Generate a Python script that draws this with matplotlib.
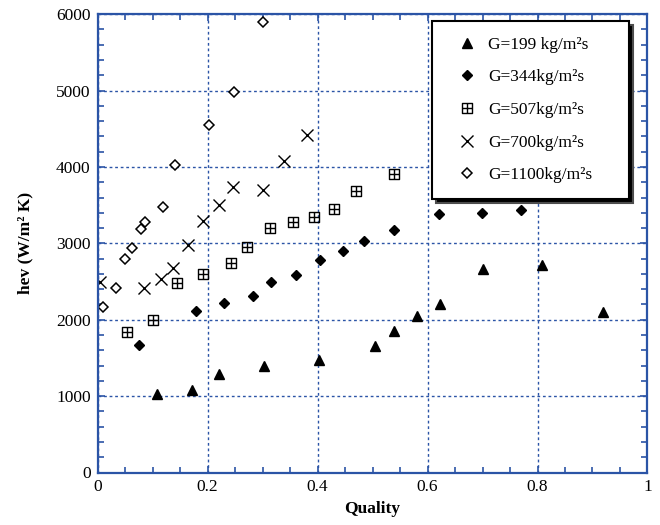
import matplotlib
matplotlib.use("Agg")
import matplotlib.pyplot as plt
from matplotlib.path import Path
from matplotlib.ticker import MultipleLocator, FixedLocator
import numpy as np

plt.rcParams['font.family'] = ['Liberation Serif', 'DejaVu Serif']

# G=199 kg/m2s
x199 = [0.108, 0.171, 0.221, 0.302, 0.403, 0.505, 0.539, 0.581, 0.622, 0.700, 0.809, 0.920]
y199 = [1022, 1074, 1287, 1400, 1474, 1652, 1848, 2043, 2204, 2665, 2720, 2096]

# G=344
x344 = [0.076, 0.178, 0.230, 0.283, 0.316, 0.360, 0.404, 0.447, 0.485, 0.539, 0.620, 0.699, 0.770]
y344 = [1674, 2117, 2217, 2314, 2490, 2590, 2785, 2905, 3031, 3170, 3381, 3394, 3441]

# G=507
x507 = [0.054, 0.101, 0.145, 0.191, 0.242, 0.272, 0.313, 0.355, 0.394, 0.430, 0.470, 0.539]
y507 = [1835, 2000, 2475, 2595, 2740, 2952, 3201, 3275, 3349, 3454, 3690, 3904]

# G=700
x700 = [0.004, 0.084, 0.116, 0.137, 0.165, 0.192, 0.221, 0.246, 0.300, 0.339, 0.380]
y700 = [2495, 2416, 2531, 2680, 2978, 3297, 3498, 3738, 3703, 4079, 4419]

# G=1100
x1100 = [0.010, 0.034, 0.049, 0.063, 0.079, 0.086, 0.118, 0.140, 0.202, 0.248, 0.301]
y1100 = [2165, 2414, 2793, 2934, 3188, 3284, 3480, 4031, 4550, 4987, 5895]

labels = ["G=199 kg/m\u00b2s", "G=344kg/m\u00b2s", "G=507kg/m\u00b2s",
          "G=700kg/m\u00b2s", "G=1100kg/m\u00b2s"]
xticklabels = ["0", "0.2", "0.4", "0.6", "0.8", "1"]

blue = '#2b54a6'

# square with a cross inside
sq = Path([(-1, -1), (1, -1), (1, 1), (-1, 1), (-1, -1),
           (0, -1), (0, 1), (-1, 0), (1, 0)],
          [Path.MOVETO, Path.LINETO, Path.LINETO, Path.LINETO, Path.CLOSEPOLY,
           Path.MOVETO, Path.LINETO, Path.MOVETO, Path.LINETO])

fig = plt.figure(figsize=(6.6, 5.25), dpi=100)
ax = fig.add_axes([0.148, 0.1, 0.833, 0.873])

ax.plot(x199, y199, ls='none', marker='^', ms=7.5, color='k', label=labels[0])
ax.plot(x344, y344, ls='none', marker='D', ms=5.5, color='k', label=labels[1])
ax.plot(x507, y507, ls='none', marker=sq, ms=7, mfc='none', mec='k', mew=1.0, label=labels[2])
ax.plot(x700, y700, ls='none', marker='x', ms=8, mec='k', mew=1.0, label=labels[3])
ax.plot(x1100, y1100, ls='none', marker='D', ms=5.2, mfc='white', mec='k', mew=1.1, label=labels[4])

ax.set_xlim(0, 1)
ax.set_ylim(0, 6000)
ax.xaxis.set_major_locator(FixedLocator([0, 0.2, 0.4, 0.6, 0.8, 1.0]))
ax.set_xticklabels(xticklabels)
ax.xaxis.set_minor_locator(MultipleLocator(0.05))
ax.yaxis.set_major_locator(MultipleLocator(1000))
ax.yaxis.set_minor_locator(MultipleLocator(200))

ax.grid(True, which='major', color=blue, ls=(0, (2, 2)), lw=1.0)
for s in ax.spines.values():
    s.set_color(blue)
    s.set_linewidth(1.6)
ax.tick_params(which='both', direction='in', top=True, right=True, color=blue,
               labelsize=12.5, width=1.2)
ax.tick_params(which='major', length=5, pad=5)
ax.tick_params(which='minor', length=4)

ax.set_xlabel("Quality", fontsize=12.5, fontweight='bold', labelpad=4)
ax.set_ylabel("hev (W/m\u00b2 K)", fontsize=12.5, fontweight='bold', labelpad=16)

leg = ax.legend(loc='upper left', bbox_to_anchor=(0.608, 0.612, 0.359, 0.373),
                mode='expand', borderaxespad=0, fancybox=False, fontsize=12.5,
                labelspacing=0.95, handlelength=2.2, handletextpad=0.15,
                borderpad=0.9, numpoints=1,
                shadow={'ox': 3, 'oy': -3, 'facecolor': 'black', 'alpha': 1})
leg.get_frame().set_edgecolor('k')
leg.get_frame().set_linewidth(1.5)
leg.get_frame().set_alpha(1)

fig.savefig("out.png", dpi=100)
